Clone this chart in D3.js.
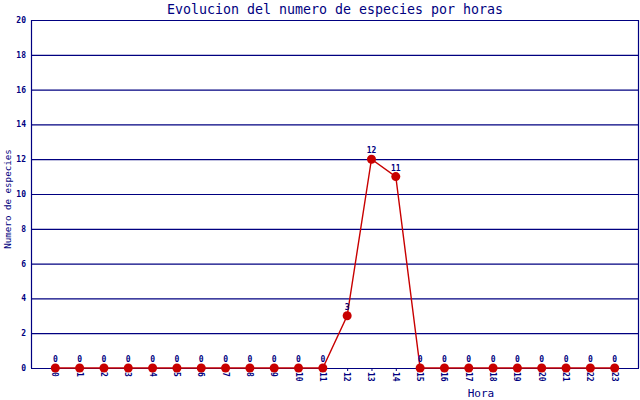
<!DOCTYPE html>
<html>
<head>
<meta charset="utf-8">
<script src="https://cdn.jsdelivr.net/npm/d3@7"></script>
<style>
  body { margin: 0; background: #fff; }
  text { font-family: "DejaVu Sans Mono", monospace; }
</style>
</head>
<body>
<div id="chart"></div>
<script>
// chart data
const horas = d3.range(0, 24);
const especies = [0, 0, 0, 0, 0, 0, 0, 0, 0, 0, 0, 0, 3, 12, 11, 0, 0, 0, 0, 0, 0, 0, 0, 0];
const yTicks = [0, 2, 4, 6, 8, 10, 12, 14, 16, 18, 20];

const data = horas.map((h, i) => ({ hora: h, n: especies[i] }));

var margin = {top: 20, right: 1, bottom: 32, left: 31},
    width = 640 - margin.left - margin.right,
    height = 400 - margin.top - margin.bottom;

const navy = "#000080";
const red = "#c80000";

var svg = d3.select("#chart").append("svg")
    .attr("width", 640)
    .attr("height", 400);

var g = svg.append("g")
    .attr("transform", "translate(" + margin.left + "," + margin.top + ")");

var x = d3.scalePoint().domain(horas).range([0, width]).padding(1);
var y = d3.scaleLinear().domain([0, 20]).range([height, 0]);

// grid lines
g.selectAll(".grid").data(yTicks).enter().append("line")
    .attr("x1", 0).attr("x2", width)
    .attr("y1", d => y(d) + 0.5).attr("y2", d => y(d) + 0.5)
    .attr("stroke", navy).attr("stroke-width", 1.2);

// axes frame
g.append("line").attr("x1", 0.5).attr("x2", 0.5).attr("y1", 0).attr("y2", height)
    .attr("stroke", navy).attr("stroke-width", 1.2);
g.append("line").attr("x1", width - 0.5).attr("x2", width - 0.5).attr("y1", 0).attr("y2", height)
    .attr("stroke", navy).attr("stroke-width", 1.2);

// y tick labels
g.selectAll(".ylab").data(yTicks).enter().append("text")
    .attr("x", -5).attr("y", d => y(d) + 3)
    .attr("text-anchor", "end")
    .attr("font-size", 8).attr("font-weight", "bold")
    .attr("fill", navy)
    .text(d => d);

// x axis small ticks
g.selectAll(".xtick").data(horas).enter().append("line")
    .attr("x1", d => x(d) + 0.5).attr("x2", d => x(d) + 0.5)
    .attr("y1", height + 1).attr("y2", height + 3)
    .attr("stroke", navy).attr("stroke-width", 1);

// x tick labels rotated
g.selectAll(".xlab").data(horas).enter().append("text")
    .attr("transform", d => "translate(" + (x(d) - 3) + "," + (height + 4) + ") rotate(90)")
    .attr("font-size", 8).attr("font-weight", "bold")
    .attr("fill", navy)
    .text(d => d);

// line
var valueline = d3.line()
    .x(d => x(d.hora))
    .y(d => y(d.n));

g.append("path")
    .data([data])
    .attr("fill", "none")
    .attr("stroke", red)
    .attr("stroke-width", 1.4)
    .attr("d", valueline);

// points
g.selectAll(".dot").data(data).enter().append("circle")
    .attr("cx", d => x(d.hora)).attr("cy", d => y(d.n))
    .attr("r", 4.5)
    .attr("fill", red);

// value labels
g.selectAll(".vlab").data(data).enter().append("text")
    .attr("x", d => x(d.hora)).attr("y", d => y(d.n) - 6)
    .attr("text-anchor", "middle")
    .attr("font-size", 8).attr("font-weight", "bold")
    .attr("fill", navy)
    .text(d => d.n);

// title
svg.append("text")
    .attr("x", 335).attr("y", 14)
    .attr("text-anchor", "middle")
    .attr("font-size", 13.3)
    .attr("fill", navy)
    .text("Evolucion del numero de especies por horas");

// axis titles
svg.append("text")
    .attr("x", 481).attr("y", 397)
    .attr("text-anchor", "middle")
    .attr("font-size", 11)
    .attr("fill", navy)
    .text("Hora");

svg.append("text")
    .attr("transform", "translate(11,199) rotate(-90)")
    .attr("text-anchor", "middle")
    .attr("font-size", 9.2)
    .attr("fill", navy)
    .text("Numero de especies");
</script>
</body>
</html>
